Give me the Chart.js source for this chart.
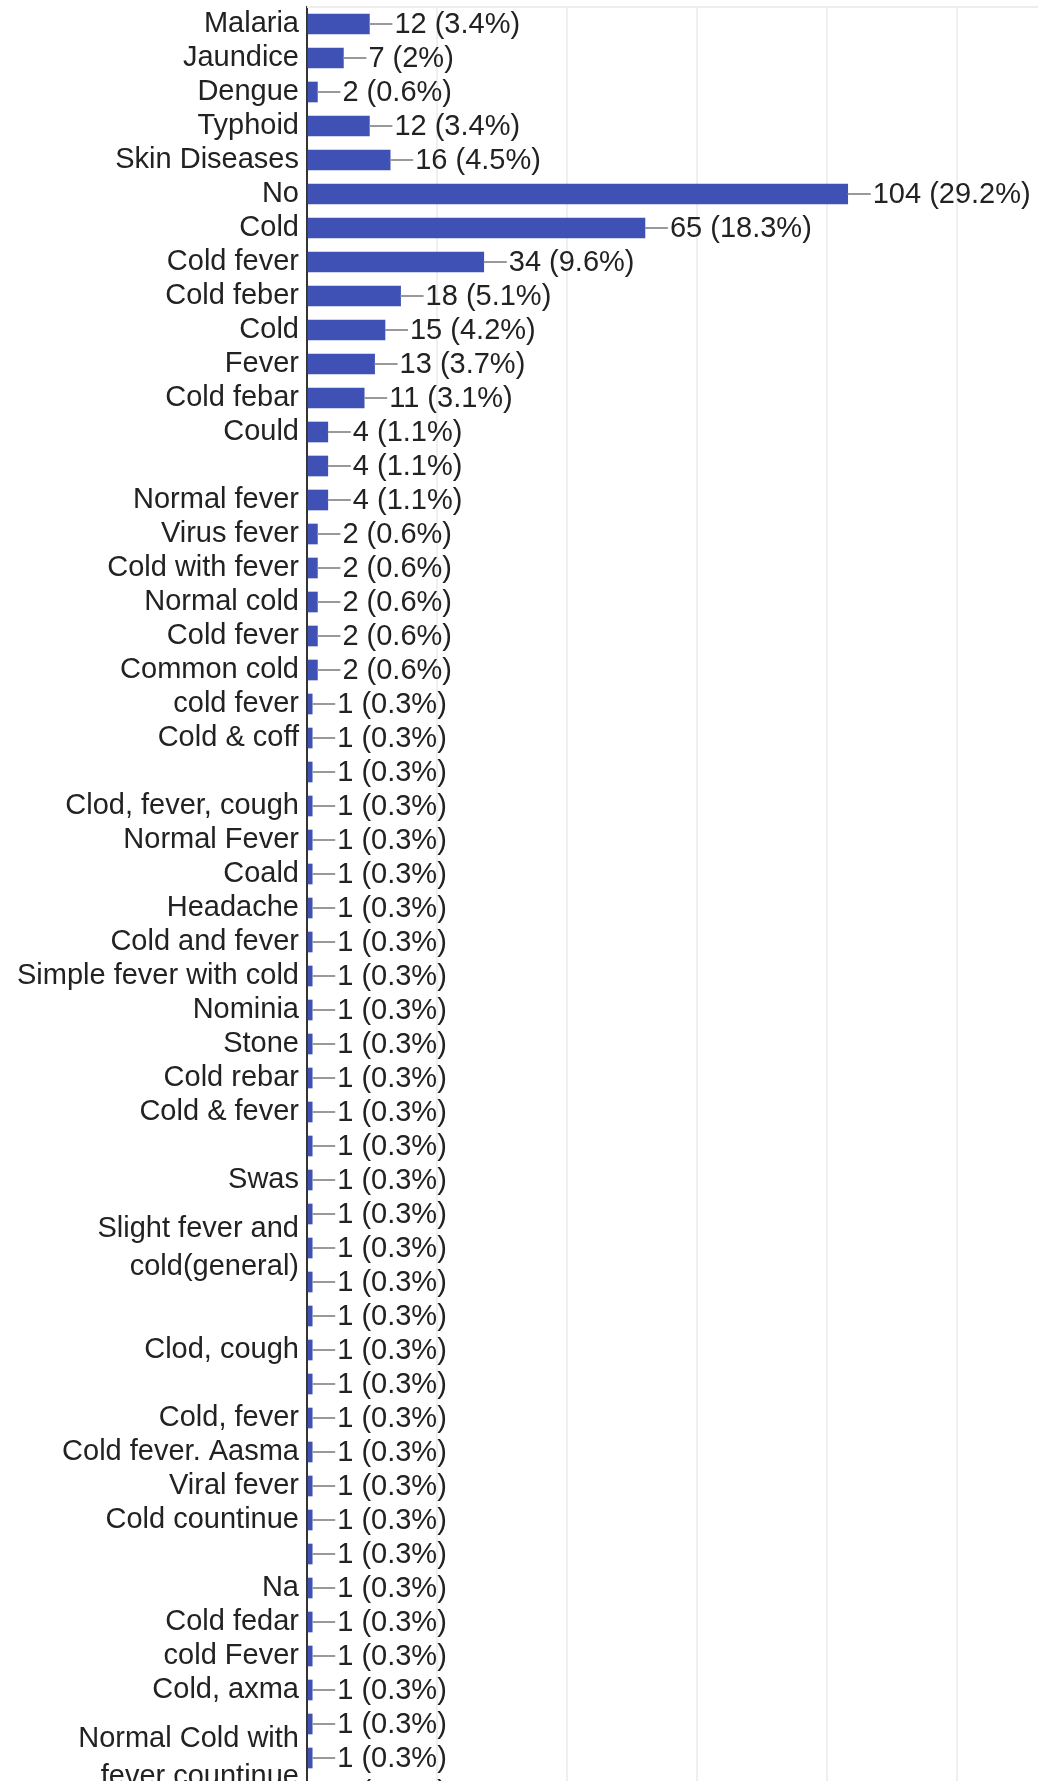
<!DOCTYPE html>
<html>
<head>
<meta charset="utf-8">
<script src="https://cdn.jsdelivr.net/npm/chart.js@4/dist/chart.umd.min.js"></script>
<style>
  html, body { margin: 0; padding: 0; background: #fff; overflow: hidden; }
  #wrap { width: 1038px; height: 1781px; overflow: hidden; position: relative; }
  canvas { display: block; }
</style>
</head>
<body>
<div id="wrap"><canvas id="c" width="1038" height="1819"></canvas></div>
<script>
const categories = [
  'Malaria', 'Jaundice', 'Dengue', 'Typhoid', 'Skin Diseases', 'No', 'Cold',
  'Cold fever', 'Cold feber', 'Cold', 'Fever', 'Cold febar', 'Could', '',
  'Normal fever', 'Virus fever', 'Cold with fever', 'Normal cold', 'Cold fever',
  'Common cold', 'cold fever', 'Cold & coff', '', 'Clod, fever, cough',
  'Normal Fever', 'Coald', 'Headache', 'Cold and fever', 'Simple fever with cold',
  'Nominia', 'Stone', 'Cold rebar', 'Cold & fever', '', 'Swas', '',
  ['Slight fever and', 'cold(general)'], '', '', 'Clod, cough', '', 'Cold, fever',
  'Cold fever. Aasma', 'Viral fever', 'Cold countinue', '', 'Na', 'Cold fedar',
  'cold Fever', 'Cold, axma', '', ['Normal Cold with', 'fever countinue'], ''
];
const counts = [
  12, 7, 2, 12, 16, 104, 65,
  34, 18, 15, 13, 11, 4, 4,
  4, 2, 2, 2, 2,
  2, 1, 1, 1, 1,
  1, 1, 1, 1, 1,
  1, 1, 1, 1, 1, 1, 1,
  1, 1, 1, 1, 1, 1,
  1, 1, 1, 1, 1, 1,
  1, 1, 1, 1, 1
];
const respondents = 356;
const xTicks = [0, 25, 50, 75, 100, 125];

const FONT = '"Liberation Sans", Arial, sans-serif';
const BAR = '#3f51b5';

function pctLabel(v) {
  let p = Math.round(v / respondents * 1000) / 10;
  let s = (p % 1 === 0) ? p.toFixed(0) : p.toFixed(1);
  return v + ' (' + s + '%)';
}

const valueLabels = {
  id: 'valueLabels',
  afterDatasetsDraw(chart) {
    const ctx = chart.ctx;
    const meta = chart.getDatasetMeta(0);
    ctx.save();
    ctx.font = '29px ' + FONT;
    ctx.textBaseline = 'middle';
    ctx.textAlign = 'left';
    meta.data.forEach((bar, i) => {
      const x = bar.x, y = bar.y;
      ctx.strokeStyle = '#999999';
      ctx.lineWidth = 2;
      ctx.beginPath();
      ctx.moveTo(x, y);
      ctx.lineTo(x + 23, y);
      ctx.stroke();
      ctx.fillStyle = '#222222';
      ctx.fillText(pctLabel(counts[i]), x + 25, y + 1);
    });
    ctx.restore();
  }
};

const topBorder = {
  id: 'topBorder',
  beforeDatasetsDraw(chart) {
    const { ctx, chartArea } = chart;
    ctx.save();
    ctx.strokeStyle = '#eeeeee';
    ctx.lineWidth = 2;
    ctx.beginPath();
    ctx.moveTo(chartArea.left, chartArea.top);
    ctx.lineTo(chart.width, chartArea.top);
    ctx.stroke();
    ctx.restore();
  }
};

new Chart(document.getElementById('c'), {
  type: 'bar',
  data: {
    labels: categories,
    datasets: [{
      data: counts,
      backgroundColor: BAR,
      borderWidth: 0,
      barThickness: 20
    }]
  },
  options: {
    indexAxis: 'y',
    responsive: false,
    animation: false,
    layout: { padding: { top: 7, right: 0, bottom: 0, left: 0 } },
    plugins: { legend: { display: false }, tooltip: { enabled: false } },
    scales: {
      x: {
        min: 0,
        max: 140.6,
        afterBuildTicks(scale) { scale.ticks = xTicks.map(v => ({ value: v })); },
        afterFit(scale) { scale.height = 10; scale.paddingLeft = 0; scale.paddingRight = 0; },
        ticks: { display: false },
        grid: { color: '#efefef', lineWidth: 2, drawTicks: false },
        border: { display: false }
      },
      y: {
        afterFit(scale) { scale.width = 307; scale.paddingTop = 0; scale.paddingBottom = 0; },
        ticks: {
          autoSkip: false,
          padding: 8,
          color: '#222222',
          font: { family: FONT, size: 29, lineHeight: 1.31 }
        },
        grid: { display: false, drawTicks: false },
        border: { display: true, color: '#333333', width: 2 }
      }
    }
  },
  plugins: [topBorder, valueLabels]
});
</script>
</body>
</html>
